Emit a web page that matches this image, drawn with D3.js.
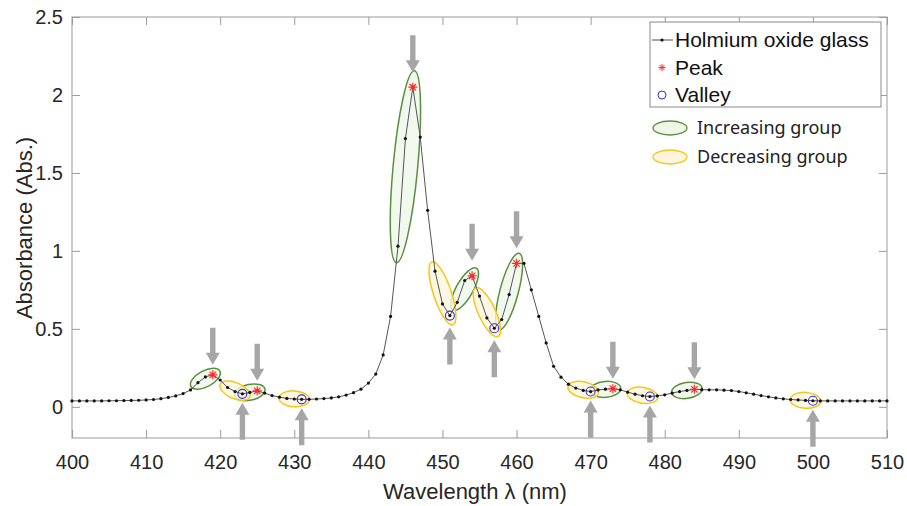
<!DOCTYPE html>
<html lang="en">
<head>
<meta charset="UTF-8">
<title>Holmium oxide glass</title>
<script src="https://cdn.jsdelivr.net/npm/d3@7"></script>
<style>
  body { margin: 0; background: #fff; }
  text { font-family: "Liberation Sans", Arial, sans-serif; }
</style>
</head>
<body>
<script>
// wavelength grid (1 nm step) and absorbance
var wavelengths = d3.range(400, 511);
var absorbance = [
  0.038, 0.038, 0.038, 0.038, 0.038, 0.039, 0.039, 0.040, 0.041, 0.042,
  0.044, 0.047, 0.052, 0.060, 0.070, 0.085, 0.108, 0.155, 0.192, 0.205,
  0.172, 0.124, 0.098, 0.083, 0.092, 0.103, 0.088, 0.072, 0.062, 0.054,
  0.050, 0.048, 0.048, 0.050, 0.053, 0.057, 0.064, 0.075, 0.091, 0.113,
  0.152, 0.210, 0.333, 0.580, 1.030, 1.720, 2.050, 1.730, 1.260, 0.870,
  0.660, 0.585, 0.670, 0.810, 0.840, 0.710, 0.570, 0.504, 0.560, 0.720,
  0.920, 0.920, 0.750, 0.580, 0.410, 0.260, 0.190, 0.145, 0.120, 0.105,
  0.098, 0.108, 0.113, 0.116, 0.109, 0.094, 0.081, 0.071, 0.066, 0.070,
  0.077, 0.088, 0.098, 0.105, 0.112, 0.110, 0.109, 0.109, 0.107, 0.104,
  0.098, 0.090, 0.081, 0.072, 0.064, 0.057, 0.051, 0.047, 0.044, 0.041,
  0.039, 0.038, 0.038, 0.038, 0.038, 0.038, 0.038, 0.038, 0.038, 0.038,
  0.038
];
var peaks = [419, 425, 446, 454, 460, 473, 484];
var valleys = [423, 431, 451, 457, 470, 478, 500];
// [first, last] wavelength of each circled group
var increasingGroups = [[417, 419], [423, 425], [444, 446], [452, 454], [458, 460], [471, 473], [482, 484]];
var decreasingGroups = [[421, 423], [429, 431], [449, 451], [455, 457], [468, 470], [476, 478], [498, 500]];
var xTicks = d3.range(400, 511, 10);
var yTicks = [0, 0.5, 1, 1.5, 2, 2.5];
var legendNames = ["Holmium oxide glass", "Peak", "Valley"];
var groupNames = ["Increasing group", "Decreasing group"];

var width = 907, height = 506;
var plotLeft = 72, plotRight = 887, plotTop = 17, plotBottom = 438;

var x = d3.scaleLinear().domain([400, 510]).range([plotLeft, plotRight]);
var y = d3.scaleLinear().domain([-0.2, 2.5]).range([plotBottom, plotTop]);

var valueAt = function(w) { return absorbance[wavelengths.indexOf(w)]; };

var svg = d3.select("body").append("svg")
    .attr("width", width)
    .attr("height", height);

// axes, MATLAB style box with inward ticks
var axisColor = "#9a9a9a";
function styleAxis(g) {
  g.select(".domain").remove();
  g.selectAll("line").attr("stroke", axisColor);
  g.selectAll("text").attr("fill", "#262626").style("font-size", "20px");
}
svg.append("g").attr("transform", "translate(0," + plotBottom + ")")
    .call(d3.axisBottom(x).tickValues(xTicks).tickSizeInner(-8).tickSizeOuter(0).tickPadding(17))
    .call(styleAxis);
svg.append("g").attr("transform", "translate(0," + plotTop + ")")
    .call(d3.axisTop(x).tickValues(xTicks).tickSizeInner(-8).tickSizeOuter(0).tickFormat(""))
    .call(styleAxis);
svg.append("g").attr("transform", "translate(" + plotLeft + ",0)")
    .call(d3.axisLeft(y).tickValues(yTicks).tickFormat(d3.format("~g"))
      .tickSizeInner(-8).tickSizeOuter(0).tickPadding(9))
    .call(styleAxis);
svg.append("g").attr("transform", "translate(" + plotRight + ",0)")
    .call(d3.axisRight(y).tickValues(yTicks).tickSizeInner(-8).tickSizeOuter(0).tickFormat(""))
    .call(styleAxis);
svg.append("rect")
    .attr("x", plotLeft).attr("y", plotTop)
    .attr("width", plotRight - plotLeft).attr("height", plotBottom - plotTop)
    .attr("fill", "none").attr("stroke", axisColor).attr("stroke-width", 1);

// axis titles
svg.append("text")
    .attr("x", 475).attr("y", 499)
    .attr("text-anchor", "middle")
    .style("font-size", "22px").attr("fill", "#262626")
    .text("Wavelength λ (nm)");
svg.append("text")
    .attr("transform", "translate(32,228) rotate(-90)")
    .attr("text-anchor", "middle")
    .style("font-size", "22px").attr("fill", "#262626")
    .text("Absorbance (Abs.)");

// ellipses around groups
function ellipseFor(g) {
  var x1 = x(g[0]), y1 = y(valueAt(g[0]));
  var x2 = x(g[1]), y2 = y(valueAt(g[1]));
  var d = Math.hypot(x2 - x1, y2 - y1);
  return {
    cx: (x1 + x2) / 2, cy: (y1 + y2) / 2,
    rx: 0.56 * d + 7, ry: 7.5 + 0.03 * d,
    angle: Math.atan2(y2 - y1, x2 - x1) * 180 / Math.PI
  };
}
var green = "#5b8f3f", greenFill = "#eef6e8";
var yellow = "#f5c518", yellowFill = "#fdf5dc";

function drawGroups(groups, stroke, fill) {
  svg.append("g").selectAll("ellipse")
    .data(groups.map(ellipseFor))
    .enter().append("ellipse")
    .attr("transform", function(e) { return "translate(" + e.cx + "," + e.cy + ") rotate(" + e.angle + ")"; })
    .attr("rx", function(e) { return e.rx; })
    .attr("ry", function(e) { return e.ry; })
    .attr("fill", fill).attr("fill-opacity", 0.8)
    .attr("stroke", stroke).attr("stroke-width", 1.5);
}
drawGroups(increasingGroups, green, greenFill);
drawGroups(decreasingGroups, yellow, yellowFill);

// spectrum line and markers
var line = d3.line()
    .x(function(d, i) { return x(wavelengths[i]); })
    .y(function(d) { return y(d); });
svg.append("path")
    .datum(absorbance)
    .attr("d", line)
    .attr("fill", "none").attr("stroke", "#555").attr("stroke-width", 1);
svg.append("g").selectAll("circle")
    .data(absorbance)
    .enter().append("circle")
    .attr("cx", function(d, i) { return x(wavelengths[i]); })
    .attr("cy", function(d) { return y(d); })
    .attr("r", 1.6)
    .attr("fill", "#111");

var star = "M-4.5,0H4.5M0,-4.5V4.5M-3.2,-3.2L3.2,3.2M-3.2,3.2L3.2,-3.2";
svg.append("g").selectAll("path")
    .data(peaks)
    .enter().append("path")
    .attr("transform", function(w) { return "translate(" + x(w) + "," + y(valueAt(w)) + ")"; })
    .attr("d", star)
    .attr("stroke", "#ff2a2a").attr("stroke-width", 1.2).attr("fill", "none");
svg.append("g").selectAll("circle")
    .data(valleys)
    .enter().append("circle")
    .attr("cx", function(w) { return x(w); })
    .attr("cy", function(w) { return y(valueAt(w)); })
    .attr("r", 4.5)
    .attr("fill", "none").attr("stroke", "#3434d4").attr("stroke-width", 1.1);

// grey arrows: down onto peaks, up onto valleys
function arrowPath(len, dir) {
  // tip at origin, body extends opposite to dir (dir=1 points down)
  var s = -dir;
  return "M-2.7," + (s * len) + "L2.7," + (s * len) + "L2.7," + (s * 12) +
    "L7," + (s * 12) + "L0,0L-7," + (s * 12) + "L-2.7," + (s * 12) + "Z";
}
svg.append("g").selectAll("path")
    .data(peaks)
    .enter().append("path")
    .attr("transform", function(w) {
      var gap = valueAt(w) > 0.5 ? 15 : 10;
      return "translate(" + x(w) + "," + (y(valueAt(w)) - gap) + ")";
    })
    .attr("d", arrowPath(37, 1))
    .attr("fill", "#a6a6a6");
svg.append("g").selectAll("path")
    .data(valleys)
    .enter().append("path")
    .attr("transform", function(w) {
      var gap = valueAt(w) > 0.3 ? 12 : 9;
      return "translate(" + x(w) + "," + (y(valueAt(w)) + gap) + ")";
    })
    .attr("d", arrowPath(37, -1))
    .attr("fill", "#a6a6a6");

// legend
var lg = svg.append("g");
lg.append("rect")
    .attr("x", 650).attr("y", 22).attr("width", 231).attr("height", 85)
    .attr("fill", "#fff").attr("stroke", "#8a8a8a").attr("stroke-width", 1);
lg.selectAll("text.name")
    .data(legendNames)
    .enter().append("text")
    .attr("class", "name")
    .attr("x", 675)
    .attr("y", function(d, i) { return 40 + i * 27.5; })
    .attr("dy", "0.35em")
    .style("font-size", "21px").attr("fill", "#111")
    .text(function(d) { return d; });
lg.append("line")
    .attr("x1", 652).attr("x2", 673).attr("y1", 40).attr("y2", 40)
    .attr("stroke", "#4d4d4d");
lg.append("circle").attr("cx", 662).attr("cy", 40).attr("r", 1.6).attr("fill", "#111");
lg.append("path").attr("transform", "translate(662,67.5) scale(0.8)")
    .attr("d", star).attr("stroke", "#ff2a2a").attr("stroke-width", 1.2).attr("fill", "none");
lg.append("circle").attr("cx", 662).attr("cy", 95).attr("r", 4)
    .attr("fill", "none").attr("stroke", "#3434d4");

var groupStyles = [[green, greenFill], [yellow, yellowFill]];
groupNames.forEach(function(name, i) {
  var cy = 128 + i * 29;
  lg.append("ellipse")
      .attr("cx", 670).attr("cy", cy).attr("rx", 17).attr("ry", 7)
      .attr("fill", groupStyles[i][1]).attr("stroke", groupStyles[i][0]).attr("stroke-width", 1.3);
  lg.append("text")
      .attr("x", 697).attr("y", cy).attr("dy", "0.35em")
      .style("font-family", "'Noto Sans', sans-serif")
      .style("font-size", "18px").attr("fill", "#222")
      .text(name);
});
</script>
</body>
</html>
